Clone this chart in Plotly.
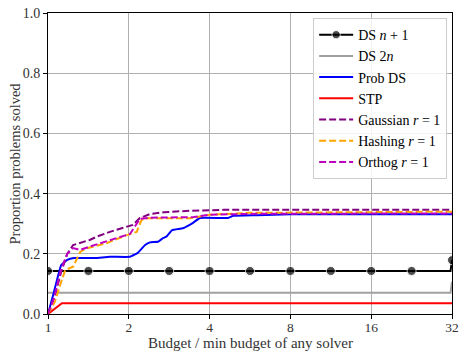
import plotly.graph_objects as go

# Budget ratios (x) and proportion of problems solved (y) for each solver
ds_n1_x = [1, 1.4142, 2, 2.8284, 4, 5.6569, 8, 11.314, 16, 22.627, 31.6, 32]
ds_n1_y = [0.143, 0.143, 0.143, 0.143, 0.143, 0.143, 0.143, 0.143, 0.143, 0.143, 0.143, 0.179]
ds_n1_marker = [9, 9, 9, 9, 9, 9, 9, 9, 9, 9, 0, 9]

ds_2n_x = [1, 31.6, 32]
ds_2n_y = [0.071, 0.071, 0.107]

prob_x = [1, 1.05, 1.12, 1.18, 1.25, 1.5, 1.70, 2.02, 2.10, 2.16, 2.30, 2.40, 2.57, 2.68, 2.76, 2.90, 3.18, 3.47, 3.68, 4.69, 4.89, 6.0, 8.0, 32]
prob_y = [0.0, 0.07, 0.163, 0.18, 0.186, 0.186, 0.19, 0.19, 0.197, 0.203, 0.229, 0.238, 0.24, 0.252, 0.257, 0.279, 0.285, 0.303, 0.319, 0.319, 0.326, 0.328, 0.331, 0.331]

stp_x = [1, 1.127, 32]
stp_y = [0.0, 0.036, 0.036]

gauss_x = [1, 1.06, 1.12, 1.18, 1.24, 1.32, 1.43, 1.52, 1.70, 2.07, 2.20, 2.40, 2.70, 3.38, 4.5, 32]
gauss_y = [0.0, 0.06, 0.14, 0.20, 0.229, 0.237, 0.246, 0.257, 0.273, 0.296, 0.319, 0.332, 0.338, 0.343, 0.346, 0.346]

hash_x = [1, 1.06, 1.12, 1.16, 1.24, 1.32, 1.39, 1.65, 1.90, 2.14, 2.23, 2.35, 3.38, 4.0, 5.66, 32]
hash_y = [0.0, 0.04, 0.107, 0.146, 0.157, 0.207, 0.218, 0.235, 0.257, 0.273, 0.312, 0.318, 0.318, 0.33, 0.336, 0.34]

orth_x = [1, 1.05, 1.12, 1.18, 1.24, 1.32, 1.43, 1.70, 2.02, 2.20, 2.40, 3.5, 4.0, 6.0, 32]
orth_y = [0.0, 0.05, 0.15, 0.20, 0.219, 0.213, 0.224, 0.246, 0.266, 0.316, 0.32, 0.322, 0.33, 0.333, 0.334]

x_ticks = [1, 2, 4, 8, 16, 32]
y_ticks = [0.0, 0.2, 0.4, 0.6, 0.8, 1.0]

font = "Liberation Serif, DejaVu Serif, serif"
text_color = "#333333"

fig = go.Figure()
fig.add_trace(go.Scatter(x=ds_n1_x, y=ds_n1_y, mode="lines+markers", name="DS <i>n</i> + 1",
                         line=dict(color="black", width=2),
                         marker=dict(color="black", size=ds_n1_marker)))
fig.add_trace(go.Scatter(x=ds_2n_x, y=ds_2n_y, mode="lines", name="DS 2<i>n</i>",
                         line=dict(color="#a0a0a0", width=2)))
fig.add_trace(go.Scatter(x=prob_x, y=prob_y, mode="lines", name="Prob DS",
                         line=dict(color="blue", width=2, shape="spline", smoothing=0.3)))
fig.add_trace(go.Scatter(x=stp_x, y=stp_y, mode="lines", name="STP",
                         line=dict(color="red", width=2)))
fig.add_trace(go.Scatter(x=gauss_x, y=gauss_y, mode="lines", name="Gaussian <i>r</i> = 1",
                         line=dict(color="purple", width=2, dash="7px,3px")))
fig.add_trace(go.Scatter(x=hash_x, y=hash_y, mode="lines", name="Hashing <i>r</i> = 1",
                         line=dict(color="orange", width=2, dash="7px,3px")))
fig.add_trace(go.Scatter(x=orth_x, y=orth_y, mode="lines", name="Orthog <i>r</i> = 1",
                         line=dict(color="#bf00bf", width=2, dash="7px,3px")))

fig.update_layout(
    width=462, height=351,
    margin=dict(l=48, r=10, t=13, b=37),
    paper_bgcolor="white", plot_bgcolor="white",
    font=dict(family=font, size=14, color=text_color),
    showlegend=True,
    legend=dict(x=0.988, y=0.983, xanchor="right", yanchor="top",
                bgcolor="rgba(255,255,255,0.85)", bordercolor="#cccccc", borderwidth=1,
                font=dict(family=font, size=14, color="black"),
                tracegroupgap=0, itemwidth=34),
    annotations=[
        dict(text="Budget / min budget of any solver", xref="paper", yref="paper",
             x=0.5, y=0, yshift=-29, xanchor="center", yanchor="middle", showarrow=False,
             borderpad=0, font=dict(family=font, size=15, color=text_color)),
        dict(text="Proportion problems solved", xref="paper", yref="paper",
             x=0, y=0.5, xshift=-34, xanchor="center", yanchor="middle", textangle=-90,
             showarrow=False, font=dict(family=font, size=14.5, color=text_color)),
    ],
)
fig.update_xaxes(type="log", range=[0, 1.50515], tickvals=x_ticks, ticktext=[str(v) for v in x_ticks],
                 automargin=False, ticklabelstandoff=-3, tickfont=dict(size=13.5),
                 showgrid=True, gridcolor="#b0b0b0", gridwidth=1,
                 showline=True, linecolor="black", linewidth=1, mirror=True,
                 ticks="outside", ticklen=4, tickcolor="black",
                 zeroline=False)
fig.update_yaxes(range=[0, 1.0], tickvals=y_ticks, ticktext=[f"{v:.1f}" for v in y_ticks],
                 automargin=False,
                 showgrid=True, gridcolor="#b0b0b0", gridwidth=1,
                 showline=True, linecolor="black", linewidth=1, mirror=True,
                 ticks="outside", ticklen=4, tickcolor="black",
                 zeroline=False)

fig.write_html("out.html")
